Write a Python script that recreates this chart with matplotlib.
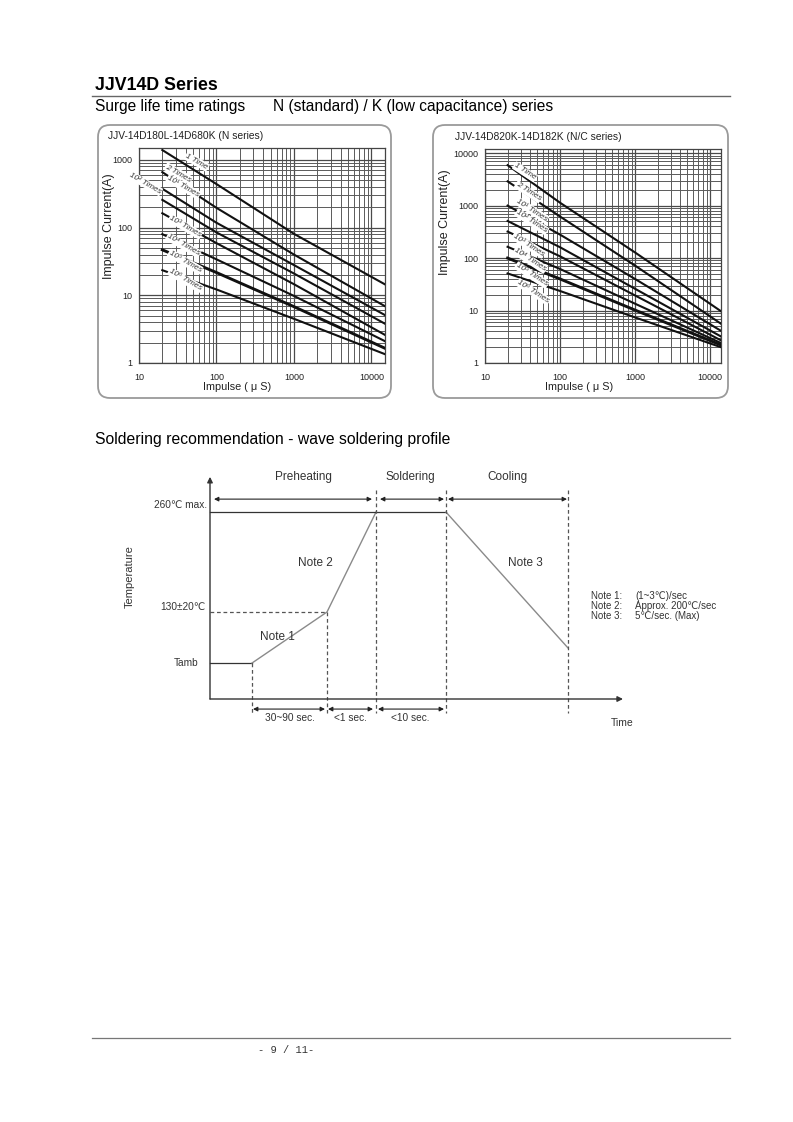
import numpy as np
import matplotlib
matplotlib.use('Agg')
import matplotlib.pyplot as plt
from matplotlib.patches import FancyBboxPatch
from matplotlib.lines import Line2D
from matplotlib.ticker import LogLocator, FixedLocator, NullFormatter

plt.rcParams['font.family'] = ['Liberation Sans', 'DejaVu Sans']

# ---------------- data: surge life ratings ----------------
pulse_n = [20, 100, 1000, 15000]          # impulse width (us), N series
n_1time = [1400, 440, 81, 14.5]
n_2times = [660, 196, 40, 6.9]
n_1e1 = [375, 118, 28, 5.1]
n_1e2 = [257, 85, 21, 3.8]
n_1e3 = [163, 59, 14.6, 2.6]
n_1e4 = [80, 34, 9.8, 2.1]
n_1e5 = [47, 21.7, 6.8, 1.65]
n_1e6 = [23.5, 12.2, 4.5, 1.35]

pulse_c = [20, 100, 1000, 14000]          # impulse width (us), N/C series
c_1time = [5900, 1136, 128, 9.7]
c_2times = [2900, 620, 72, 5.6]
c_1e1 = [1000, 280, 40, 4.1]
c_1e2 = [510, 161, 26, 3.2]
c_1e3 = [320, 108, 19.4, 2.7]
c_1e4 = [164, 62, 13.5, 2.4]
c_1e5 = [100, 40, 10.2, 2.2]
c_1e6 = [51, 23.6, 7.4, 2.0]

curve_labels = ['1 Time', '2 Times', '10¹ Times', '10² Times',
                '10³ Times', '10⁴ Times', '10⁵ Times', '10⁶ Times']
n_label_x = [55.7, 32.2, 37.4, 12.0, 39.4, 37.4, 39.4, 39.4]
n_label_y = [940, 634, 402, 451, 103, 55, 31.4, 16.8]
c_label_x = [34.1, 37.8, 42.0, 42.0, 37.8, 39.8, 42.0, 44.0]
c_label_y = [4400, 1830, 820, 491, 177, 91.6, 47.4, 22.8]

x_ticks = [10, 100, 1000, 10000]
n_y_ticks = [1, 10, 100, 1000]
c_y_ticks = [1, 10, 100, 1000, 10000]

# ---------------- data: soldering profile (schematic units) ----------------
profile_t = [0, 42, 117, 166, 236, 358]
profile_T = [50, 50, 121, 260, 260, 71]
phase_names = ['Preheating', 'Soldering', 'Cooling']
phase_bounds = [(4, 162), (170, 234), (238, 357)]
phase_label_x = [93, 200, 297]
duration_bounds = [(43, 115), (118, 163), (168, 234)]
duration_labels = ['30~90 sec.', '<1 sec.', '<10 sec.']
duration_label_x = [80, 140, 200]
notes = ['Note 1:', 'Note 2:', 'Note 3:']
note_values = ['(1~3℃)/sec', 'Approx. 200℃/sec', '5℃/sec. (Max)']

W, H = 793, 1122
fig = plt.figure(figsize=(W / 100, H / 100), dpi=100)


def fx(px):
    return px / W


def fy(py):
    return 1 - py / H


TXT = '#222222'

# ---------------- page texts ----------------
fig.text(fx(95), fy(85), 'JJV14D Series', fontsize=12.8, fontweight='bold',
         va='center', ha='left', color='black')
fig.add_artist(Line2D([fx(92), fx(730)], [fy(96), fy(96)], color='#666666', lw=1.0))
fig.text(fx(95), fy(106), 'Surge life time ratings', fontsize=11.2, va='center', color='black')
fig.text(fx(273), fy(106), 'N (standard) / K (low capacitance) series', fontsize=11.2,
         va='center', color='black')
fig.text(fx(95), fy(440), 'Soldering recommendation - wave soldering profile', fontsize=11.3,
         va='center', color='black')
fig.add_artist(Line2D([fx(92), fx(730)], [fy(1038), fy(1038)], color='#777777', lw=0.9))
fig.text(fx(258), fy(1050), '- 9 / 11-', fontsize=7.5, va='center', color='#333333',
         family=['Liberation Mono', 'DejaVu Sans Mono'])

# ---------------- rounded frames ----------------
for (x0, x1) in [(98, 391), (433, 728)]:
    box = FancyBboxPatch((x0 / 100, (H - 398) / 100), (x1 - x0) / 100, (398 - 125) / 100,
                         boxstyle='round,pad=0,rounding_size=0.12',
                         transform=fig.dpi_scale_trans, facecolor='none',
                         edgecolor='#9a9a9a', lw=1.3)
    fig.add_artist(box)

fig.text(fx(108), fy(136), 'JJV-14D180L-14D680K (N series)', fontsize=7.4, va='center', color=TXT)
fig.text(fx(455), fy(137), 'JJV-14D820K-14D182K (N/C series)', fontsize=7.4, va='center', color=TXT)


def surge_axes(rect, xlim, ylim, yticks, pulses, curves, lx, ly, rot,
               xlab_x, ylab_pos):
    ax = fig.add_axes(rect)
    ax.set_xscale('log')
    ax.set_yscale('log')
    ax.set_xlim(*xlim)
    ax.set_ylim(*ylim)
    ax.xaxis.set_major_locator(FixedLocator(x_ticks))
    ax.yaxis.set_major_locator(FixedLocator(yticks))
    ax.xaxis.set_minor_locator(LogLocator(base=10, subs=np.arange(2, 10)))
    ax.yaxis.set_minor_locator(LogLocator(base=10, subs=np.arange(2, 10)))
    ax.xaxis.set_minor_formatter(NullFormatter())
    ax.yaxis.set_minor_formatter(NullFormatter())
    ax.set_xticklabels([str(v) for v in x_ticks])
    ax.set_yticklabels([str(v) for v in yticks])
    ax.tick_params(which='both', length=0, labelsize=6.5, labelcolor=TXT)
    ax.tick_params(axis='x', pad=7)
    ax.tick_params(axis='y', pad=4.5)
    ax.grid(which='major', color='#4a4a4a', lw=0.9)
    ax.grid(which='minor', color='#5a5a5a', lw=0.7)
    for s in ax.spines.values():
        s.set_color('#444444')
        s.set_linewidth(0.9)
    for i, c in enumerate(curves):
        ax.plot(pulses, c, color='#111111', lw=2.1 if i == 6 else 1.5, zorder=3)
    for t, x, y in zip(curve_labels, lx, ly):
        ax.text(x, y, t, fontsize=5.8, style='italic', rotation=rot, color='#333333',
                ha='center', va='center', zorder=4, clip_on=False,
                bbox=dict(boxstyle='round,pad=0.1', fc='white', ec='none'))
    ax.set_xlabel('Impulse ( μ S)', fontsize=7.8, color=TXT)
    ax.set_ylabel('Impulse Current(A)', fontsize=9, color=TXT)
    ax.xaxis.set_label_coords(xlab_x, -0.09)
    ax.yaxis.set_label_coords(ylab_pos[0], ylab_pos[1])
    return ax


surge_axes([fx(139), fy(363), fx(385) - fx(139), fy(148) - fy(363)],
           (10, 15000), (1, 1500), n_y_ticks, pulse_n,
           [n_1time, n_2times, n_1e1, n_1e2, n_1e3, n_1e4, n_1e5, n_1e6],
           n_label_x, n_label_y, -30, 0.398, (-0.096, 0.637))
surge_axes([fx(485), fy(363), fx(721) - fx(485), fy(149) - fy(363)],
           (10, 14000), (1, 12000), c_y_ticks, pulse_c,
           [c_1time, c_2times, c_1e1, c_1e2, c_1e3, c_1e4, c_1e5, c_1e6],
           c_label_x, c_label_y, -33, 0.40, (-0.146, 0.66))

# ---------------- soldering profile ----------------
ax = fig.add_axes([fx(210), fy(699), fx(640) - fx(210), fy(470) - fy(699)])
ax.set_xlim(0, 430)
ax.set_ylim(0, 318.5)
ax.axis('off')

DARK = '#333333'
LIGHT = '#8a8a8a'
dash = dict(color='#555555', lw=0.9, ls=(0, (3, 2.2)), clip_on=False)

# axes arrows
ax.annotate('', xy=(0, 309), xytext=(0, 0),
            arrowprops=dict(arrowstyle='-|>', color=DARK, lw=1.0, mutation_scale=8,
                            shrinkA=0, shrinkB=0), annotation_clip=False)
ax.annotate('', xy=(413, 0), xytext=(0, 0),
            arrowprops=dict(arrowstyle='-|>', color=DARK, lw=1.0, mutation_scale=8,
                            shrinkA=0, shrinkB=0), annotation_clip=False)

# profile
ax.plot(profile_t[:2], profile_T[:2], color=DARK, lw=0.9, clip_on=False)
ax.plot(profile_t[1:4], profile_T[1:4], color=LIGHT, lw=1.0, clip_on=False)
ax.plot([0, profile_t[4]], [profile_T[3], profile_T[4]], color=DARK, lw=0.9, clip_on=False)
ax.plot(profile_t[4:], profile_T[4:], color=LIGHT, lw=1.0, clip_on=False)

# guide lines
ax.plot([0, profile_t[2]], [profile_T[2], profile_T[2]], **dash)
ax.plot([profile_t[1]] * 2, [profile_T[1], -19.5], **dash)
ax.plot([profile_t[2]] * 2, [profile_T[2], -19.5], **dash)
for t in profile_t[3:]:
    ax.plot([t, t], [291, -19.5], **dash)

arrow_kw = dict(arrowstyle='<|-|>', color='#222222', lw=0.8, mutation_scale=6.5,
                shrinkA=0, shrinkB=0)
for (a, b), name, lx in zip(phase_bounds, phase_names, phase_label_x):
    ax.annotate('', xy=(a, 278), xytext=(b, 278), arrowprops=arrow_kw, annotation_clip=False)
    ax.text(lx, 309, name, fontsize=8.5, ha='center', va='center', color=DARK)
for (a, b), name, lx in zip(duration_bounds, duration_labels, duration_label_x):
    ax.annotate('', xy=(a, -14), xytext=(b, -14), arrowprops=arrow_kw, annotation_clip=False)
    ax.text(lx, -26, name, fontsize=7.3, ha='center', va='center', color=DARK)

ax.text(-3, 270, '260℃ max.', fontsize=7.3, ha='right', va='center', color=DARK)
ax.text(-5, 128, '130±20℃', fontsize=7.3, ha='right', va='center', color=DARK)
ax.text(-12, 50, 'Tamb', fontsize=7.3, ha='right', va='center', color=DARK)
ax.text(-80, 170, 'Temperature', fontsize=8, rotation=90, ha='center', va='center', color=DARK)
ax.text(412, -33, 'Time', fontsize=7.5, ha='center', va='center', color=DARK)
ax.text(50, 86, 'Note 1', fontsize=8.5, ha='left', va='center', color=DARK)
ax.text(105, 189, 'Note 2', fontsize=8.5, ha='center', va='center', color=DARK)
ax.text(315, 189, 'Note 3', fontsize=8.5, ha='center', va='center', color=DARK)
for i, (n, v) in enumerate(zip(notes, note_values)):
    y = 143 - i * 13.5
    ax.text(381, y, n, fontsize=7, ha='left', va='center', color=DARK, clip_on=False)
    ax.text(425, y, v, fontsize=7, ha='left', va='center', color=DARK, clip_on=False)

fig.savefig('out.png', dpi=100)
